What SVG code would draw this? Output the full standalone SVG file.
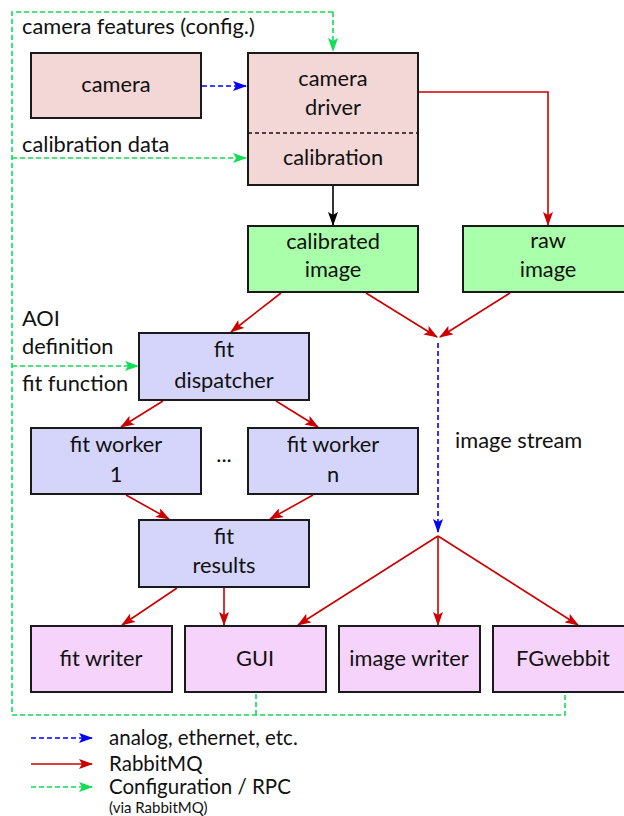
<svg xmlns="http://www.w3.org/2000/svg" width="624" height="816" viewBox="0 0 624 816">
<style>
text{font-family:Lato,"Noto Sans","DejaVu Sans",sans-serif;font-size:21.8px;fill:#111}
.c{text-anchor:middle}
.lg{font-size:20.5px}
.box{stroke:#1a1a1a;stroke-width:2}
.pk{fill:#f3d6d6}.gr{fill:#aaffaa}.bl{fill:#d5d5fc}.mg{fill:#f5d3fa}
.red{stroke:#cc0000;stroke-width:1.6;fill:none}
.blu{stroke:#0000ff;stroke-width:1.6;fill:none;stroke-dasharray:5,3}
.grn{stroke:#11dd55;stroke-width:1.6;fill:none;stroke-dasharray:5,3}
.blk{stroke:#000;stroke-width:1.6;fill:none}
</style>
<defs>
<marker id="ar" markerUnits="userSpaceOnUse" markerWidth="14" markerHeight="10" refX="13" refY="5" orient="auto"><path d="M0,0L14,5L0,10L3,5z" fill="#cc0000"/></marker>
<marker id="ab" markerUnits="userSpaceOnUse" markerWidth="14" markerHeight="10" refX="13" refY="5" orient="auto"><path d="M0,0L14,5L0,10L3,5z" fill="#0000ff"/></marker>
<marker id="ag" markerUnits="userSpaceOnUse" markerWidth="14" markerHeight="10" refX="13" refY="5" orient="auto"><path d="M0,0L14,5L0,10L3,5z" fill="#11dd55"/></marker>
<marker id="ak" markerUnits="userSpaceOnUse" markerWidth="14" markerHeight="10" refX="13" refY="5" orient="auto"><path d="M0,0L14,5L0,10L3,5z" fill="#000"/></marker>
</defs>

<g id="connectors">
<path class="grn" d="M333,12H12V715H565V692" />
<path class="grn" d="M256,715V692"/>
<path class="grn" d="M333,12V51" marker-end="url(#ag)"/>
<path class="grn" d="M12,158H246" marker-end="url(#ag)"/>
<path class="grn" d="M12,366H138" marker-end="url(#ag)"/>
<path class="blu" d="M202,86H246" marker-end="url(#ab)"/>
<path class="red" d="M419,92H548V225" marker-end="url(#ar)"/>
<path class="blk" d="M333,186V225" marker-end="url(#ak)"/>
<path class="red" d="M281,293L231,332" marker-end="url(#ar)"/>
<path class="red" d="M366,293L437,337" marker-end="url(#ar)"/>
<path class="red" d="M510,293L440,337" marker-end="url(#ar)"/>
<path class="blu" d="M438,343V532" marker-end="url(#ab)"/>
<path class="red" d="M163,401L121,427" marker-end="url(#ar)"/>
<path class="red" d="M276,401L318,427" marker-end="url(#ar)"/>
<path class="red" d="M126,495L169,519" marker-end="url(#ar)"/>
<path class="red" d="M313,495L270,519" marker-end="url(#ar)"/>
<path class="red" d="M177,588L122,625" marker-end="url(#ar)"/>
<path class="red" d="M224,588V625" marker-end="url(#ar)"/>
<path class="red" d="M438,536L298,625" marker-end="url(#ar)"/>
<path class="red" d="M438,536V625" marker-end="url(#ar)"/>
<path class="red" d="M438,536L578,625" marker-end="url(#ar)"/>
</g>

<g id="labels">
<text x="22" y="34">camera features (config.)</text>
<text x="22" y="152">calibration data</text>
<text x="22" y="326">AOI</text>
<text x="22" y="354">definition</text>
<text x="22" y="391">fit function</text>
<text x="455" y="448">image stream</text>
<text x="224" y="462" class="c">...</text>
</g>

<g id="camera"><rect class="box pk" x="31" y="53" width="170" height="65"/><text class="c" x="116" y="92">camera</text></g>
<g id="camera-driver"><rect class="box pk" x="248" y="53" width="170" height="132"/>
<text class="c" x="333" y="86">camera</text><text class="c" x="333" y="115">driver</text>
<path d="M248,133H418" stroke="#111" stroke-width="1.6" stroke-dasharray="4,3"/>
<text class="c" x="333" y="165">calibration</text></g>
<g id="calibrated-image"><rect class="box gr" x="248" y="226" width="170" height="66"/><text class="c" x="333" y="249">calibrated</text><text class="c" x="333" y="277">image</text></g>
<g id="raw-image"><rect class="box gr" x="463" y="226" width="170" height="66"/><text class="c" x="548" y="248">raw</text><text class="c" x="548" y="277">image</text></g>
<g id="fit-dispatcher"><rect class="box bl" x="139" y="333" width="170" height="67"/><text class="c" x="224" y="357">fit</text><text class="c" x="224" y="388">dispatcher</text></g>
<g id="fit-worker-1"><rect class="box bl" x="31" y="428" width="170" height="66"/><text class="c" x="116" y="452">fit worker</text><text class="c" x="116" y="482">1</text></g>
<g id="fit-worker-n"><rect class="box bl" x="248" y="428" width="170" height="66"/><text class="c" x="333" y="452">fit worker</text><text class="c" x="333" y="482">n</text></g>
<g id="fit-results"><rect class="box bl" x="139" y="520" width="170" height="67"/><text class="c" x="224" y="544">fit</text><text class="c" x="224" y="573">results</text></g>
<g id="fit-writer"><rect class="box mg" x="31" y="626" width="141" height="66"/><text class="c" x="101" y="666">fit writer</text></g>
<g id="gui"><rect class="box mg" x="185" y="626" width="141" height="66"/><text class="c" x="255" y="666">GUI</text></g>
<g id="image-writer"><rect class="box mg" x="339" y="626" width="141" height="66"/><text class="c" x="409" y="666">image writer</text></g>
<g id="fgwebbit"><rect class="box mg" x="493" y="626" width="141" height="66"/><text class="c" x="563" y="666">FGwebbit</text></g>

<g id="legend">
<path class="blu" d="M31,738H92" marker-end="url(#ab)"/>
<path class="red" d="M31,764H92" marker-end="url(#ar)"/>
<path class="grn" d="M31,787H92" marker-end="url(#ag)"/>
<text class="lg" x="109" y="745">analog, ethernet, etc.</text>
<text class="lg" x="109" y="771">RabbitMQ</text>
<text class="lg" x="109" y="794">Configuration / RPC</text>
<text x="109" y="813" style="font-size:15px">(via RabbitMQ)</text>
</g>
</svg>
